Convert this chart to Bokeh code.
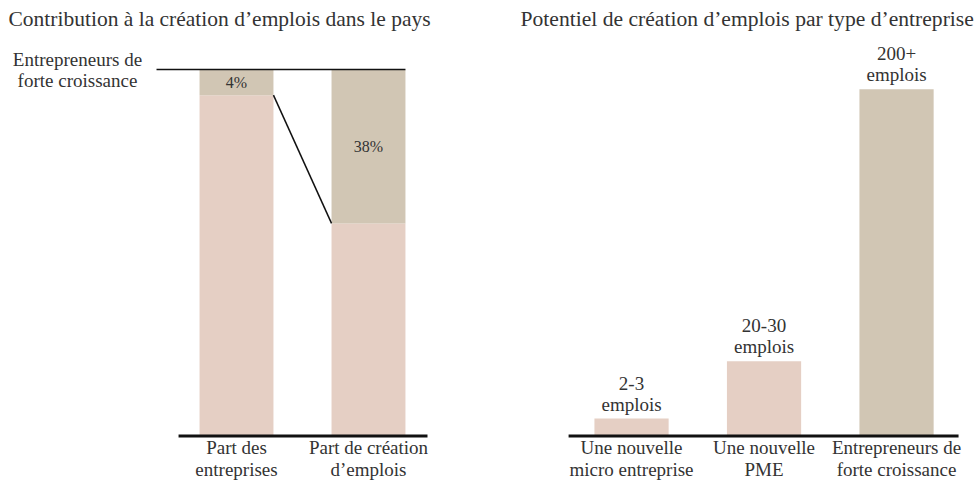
from bokeh.plotting import figure
from bokeh.models import Range1d, FixedTicker
from bokeh.layouts import row
from bokeh.embed import file_html
from bokeh.resources import INLINE
from bokeh.core.properties import value

FONT = "Liberation Serif"
TXT = "#333333"
PINK = "#e5cfc4"
TAN = "#d1c6b4"
INK = "#111111"

# ---------------- data ----------------
left_title = "Contribution à la création d’emplois dans le pays"
left_cats = ["Part des\nentreprises", "Part de création\nd’emplois"]
left_other = [93, 58]          # share of other firms (pink), as drawn
left_high = [7, 42]            # share of high-growth entrepreneurs (tan), as drawn
left_high_labels = ["4%", "38%"]
left_series_label = "Entrepreneurs de\nforte croissance"

right_title = "Potentiel de création d’emplois par type d’entreprise"
right_cats = ["Une nouvelle\nmicro entreprise", "Une nouvelle\nPME", "Entrepreneurs de\nforte croissance"]
right_values = [10, 43, 200]
right_labels = ["2-3\nemplois", "20-30\nemplois", "200+\nemplois"]
right_colors = [PINK, PINK, TAN]

W1, W2, H = 498, 479, 482
BW = 0.56


def style(p, cats, ticks, title_size):
    p.title.text_font = FONT
    p.title.text_font_size = title_size
    p.title.text_font_style = "normal"
    p.title.text_color = TXT
    p.title.align = "left"
    p.title.standoff = 4
    p.yaxis.visible = False
    p.grid.visible = False
    p.outline_line_color = None
    ax = p.xaxis[0]
    ax.ticker = FixedTicker(ticks=ticks)
    ax.major_label_overrides = {t: c for t, c in zip(ticks, cats)}
    ax.axis_line_color = None
    ax.major_tick_line_color = None
    ax.minor_tick_line_color = None
    ax.major_tick_out = 0
    ax.major_tick_in = 0
    ax.major_label_standoff = -2
    ax.major_label_text_font = FONT
    ax.major_label_text_font_size = "19px"
    ax.major_label_text_color = TXT
    ax.major_label_text_line_height = 1.05


# ---------------- left panel ----------------
lx = list(range(len(left_cats)))
p1 = figure(width=W1, height=H, output_backend="svg", toolbar_location=None,
            title=left_title,
            x_range=Range1d(-1.788, 1.985), y_range=Range1d(-0.71, 110.11),
            min_border_left=0, min_border_right=0, min_border_top=32, min_border_bottom=0)
style(p1, left_cats, lx, "21.5px")
p1.title.offset = 8

tops = [a + b for a, b in zip(left_other, left_high)]
p1.vbar(x=lx, bottom=0, top=left_other, width=BW, fill_color=PINK, line_color=None)
p1.vbar(x=lx, bottom=left_other, top=tops, width=BW, fill_color=TAN, line_color=None)
p1.text(x=lx, y=[a + b / 2 for a, b in zip(left_other, left_high)], text=left_high_labels,
        text_align="center", text_baseline="middle", text_font=value(FONT),
        text_font_size="16px", text_color=TXT)
# connector between the tops of the pink parts
p1.segment(x0=[lx[0] + BW / 2], y0=[left_other[0]], x1=[lx[1] - BW / 2], y1=[left_other[1]],
           line_color=INK, line_width=1.5)
# top reference line (100%)
p1.segment(x0=[lx[0] - 0.606], y0=[tops[0]], x1=[lx[1] + BW / 2], y1=[tops[0]],
           line_color=INK, line_width=1.5)
p1.text(x=[lx[0] - 1.205], y=[tops[0]], text=[left_series_label], text_align="center",
        text_baseline="middle", text_font=value(FONT), text_font_size="19px",
        text_color=TXT, text_line_height=1.0)
# baseline
p1.segment(x0=[lx[0] - 0.439], y0=[0], x1=[lx[1] + 0.447], y1=[0], line_color=INK, line_width=3)

# ---------------- right panel ----------------
rx = list(range(len(right_cats)))
p2 = figure(width=W2, height=H, output_backend="svg", toolbar_location=None,
            title=right_title,
            x_range=Range1d(-1.004, 2.611), y_range=Range1d(-1.50, 232.75),
            min_border_left=0, min_border_right=0, min_border_top=32, min_border_bottom=0)
style(p2, right_cats, rx, "21.6px")
p2.title.offset = 22

p2.vbar(x=rx, bottom=0, top=right_values, width=BW, fill_color=right_colors, line_color=None)
p2.text(x=rx, y=right_values, text=right_labels, text_align="center", text_baseline="bottom",
        y_offset=-4, text_font=value(FONT), text_font_size="19px", text_color=TXT,
        text_line_height=1.0)
p2.segment(x0=[rx[0] - 0.475], y0=[0], x1=[rx[-1] + 0.468], y1=[0], line_color=INK, line_width=3)

layout = row(p1, p2)
open("out.html", "w").write(file_html(layout, INLINE))
